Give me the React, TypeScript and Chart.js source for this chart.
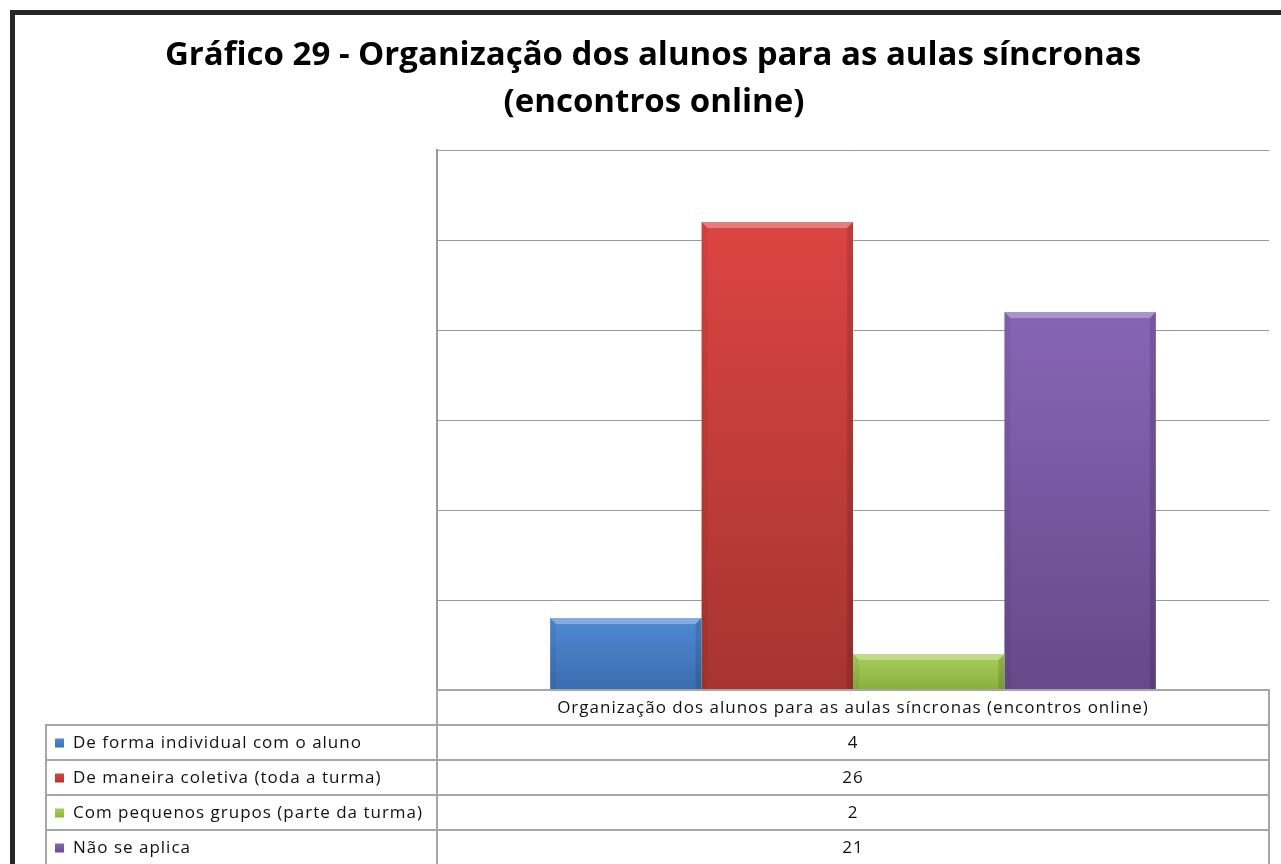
import React, { useEffect, useRef } from "react";
import { Chart, registerables } from "chart.js";

Chart.register(...registerables);

const titleLines = [
  "Gráfico 29 - Organização dos alunos para as aulas síncronas",
  "(encontros online)",
];
const categories = ["Organização dos alunos para as aulas síncronas (encontros online)"];
const seriesLabels = [
  "De forma individual com o aluno",
  "De maneira coletiva (toda a turma)",
  "Com pequenos grupos (parte da turma)",
  "Não se aplica",
];
const seriesValues = [4, 26, 2, 21];
const yMin = 0;
const yMax = 30;
const yStep = 5;

const topColors = ["#4f8bd6", "#dc4542", "#a6d05a", "#8765b6"];
const bottomColors = ["#3a6cae", "#a63431", "#8aae3e", "#664989"];
const solidColors = ["#4479c2", "#c03c3a", "#98c04c", "#7656a0"];

const FONT = "'Open Sans', 'Noto Sans', sans-serif";

const framePlugin = {
  id: "frame",
  beforeDraw(chart: any) {
    const ctx = chart.ctx;
    ctx.save();
    ctx.fillStyle = "#ffffff";
    ctx.fillRect(0, 0, chart.width, chart.height);
    ctx.strokeStyle = "#262626";
    ctx.lineWidth = 5;
    ctx.beginPath();
    ctx.moveTo(12.5, chart.height + 10);
    ctx.lineTo(12.5, 12.5);
    ctx.lineTo(chart.width + 10, 12.5);
    ctx.stroke();
    ctx.restore();
  },
};

const titlePlugin = {
  id: "customTitle",
  afterDraw(chart: any) {
    const ctx = chart.ctx;
    ctx.save();
    ctx.fillStyle = "#000000";
    ctx.font = `bold 33px ${FONT}`;
    ctx.textAlign = "center";
    ctx.textBaseline = "alphabetic";
    ctx.fillText(titleLines[0], 653, 65);
    ctx.fillText(titleLines[1], 654, 112);
    ctx.restore();
  },
};

const bevelPlugin = {
  id: "bevel",
  afterDatasetsDraw(chart: any) {
    const ctx = chart.ctx;
    ctx.save();
    chart.data.datasets.forEach((_ds: any, di: number) => {
      const meta = chart.getDatasetMeta(di);
      meta.data.forEach((el: any) => {
        const p = el.getProps(["x", "y", "base", "width"], true);
        const l = p.x - p.width / 2;
        const r = p.x + p.width / 2;
        const t = p.y;
        const b = p.base;
        const bv = 6;
        ctx.fillStyle = "rgba(255,255,255,0.3)";
        ctx.beginPath();
        ctx.moveTo(l, t);
        ctx.lineTo(r, t);
        ctx.lineTo(r - bv, t + bv);
        ctx.lineTo(l + bv, t + bv);
        ctx.closePath();
        ctx.fill();
        ctx.fillStyle = "rgba(0,0,0,0.05)";
        ctx.beginPath();
        ctx.moveTo(l, t);
        ctx.lineTo(l + bv, t + bv);
        ctx.lineTo(l + bv, b);
        ctx.lineTo(l, b);
        ctx.closePath();
        ctx.fill();
        ctx.fillStyle = "rgba(0,0,0,0.13)";
        ctx.beginPath();
        ctx.moveTo(r, t);
        ctx.lineTo(r - bv, t + bv);
        ctx.lineTo(r - bv, b);
        ctx.lineTo(r, b);
        ctx.closePath();
        ctx.fill();
      });
    });
    ctx.restore();
  },
};

const tablePlugin = {
  id: "dataTable",
  afterDraw(chart: any) {
    const ctx = chart.ctx;
    const area = chart.chartArea;
    const rowH = 35;
    const tableLeft = 46;
    const colSplit = area.left;
    const right = area.right;
    const top = area.bottom;
    const nRows = seriesLabels.length;
    ctx.save();
    ctx.strokeStyle = "#a6a6a6";
    ctx.lineWidth = 2;
    ctx.strokeRect(colSplit, top, right - colSplit, rowH);
    for (let i = 0; i < nRows; i++) {
      const y = top + rowH * (i + 1);
      ctx.strokeRect(tableLeft, y, colSplit - tableLeft, rowH);
      ctx.strokeRect(colSplit, y, right - colSplit, rowH);
    }
    ctx.fillStyle = "#111111";
    ctx.font = `17px ${FONT}`;
    (ctx as any).letterSpacing = "1px";
    ctx.textBaseline = "middle";
    ctx.textAlign = "center";
    const cx = (colSplit + right) / 2;
    ctx.fillText(categories[0], cx, top + rowH / 2 + 1);
    for (let i = 0; i < nRows; i++) {
      const yc = top + rowH * (i + 1) + rowH / 2 + 1;
      ctx.textAlign = "center";
      ctx.fillStyle = "#111111";
      ctx.fillText(String(seriesValues[i]), cx, yc);
      const g = ctx.createLinearGradient(0, yc - 5, 0, yc + 5);
      g.addColorStop(0, topColors[i]);
      g.addColorStop(1, bottomColors[i]);
      ctx.fillStyle = g;
      ctx.fillRect(55, yc - 5, 9, 9);
      ctx.textAlign = "left";
      ctx.fillStyle = "#111111";
      ctx.fillText(seriesLabels[i], 73, yc);
    }
    ctx.restore();
  },
};

export default function App() {
  const ref = useRef<HTMLCanvasElement | null>(null);
  useEffect(() => {
    if (!ref.current) return;
    const chart = new Chart(ref.current, {
      type: "bar",
      data: {
        labels: categories,
        datasets: seriesLabels.map((label, i) => ({
          label,
          data: [seriesValues[i]],
          backgroundColor: (c: any) => {
            const ch = c.chart;
            const area = ch.chartArea;
            if (!area || c.raw === undefined) return solidColors[i];
            const topPx = ch.scales.y.getPixelForValue(c.raw);
            const g = ch.ctx.createLinearGradient(0, topPx, 0, area.bottom);
            g.addColorStop(0, topColors[i]);
            g.addColorStop(1, bottomColors[i]);
            return g;
          },
          borderWidth: 0,
          categoryPercentage: 0.728,
          barPercentage: 1,
        })),
      },
      options: {
        responsive: false,
        animation: false,
        layout: { padding: { left: 437, top: 150, right: 12, bottom: 174 } },
        plugins: {
          legend: { display: false },
          title: { display: false },
          tooltip: { enabled: false },
        },
        scales: {
          x: { display: false },
          y: {
            min: yMin,
            max: yMax,
            ticks: { display: false, stepSize: yStep },
            grid: { color: "#9a9a9a", lineWidth: 1, drawTicks: false },
            border: { display: true, color: "#9a9a9a", width: 2 },
          },
        },
      },
      plugins: [framePlugin, bevelPlugin, tablePlugin, titlePlugin],
    });
    return () => chart.destroy();
  }, []);
  return (
    <div style={{ position: "fixed", left: 0, top: 0, width: 1281, height: 864, background: "#fff" }}>
      <canvas ref={ref} width={1281} height={864} style={{ width: 1281, height: 864, display: "block" }} />
    </div>
  );
}
